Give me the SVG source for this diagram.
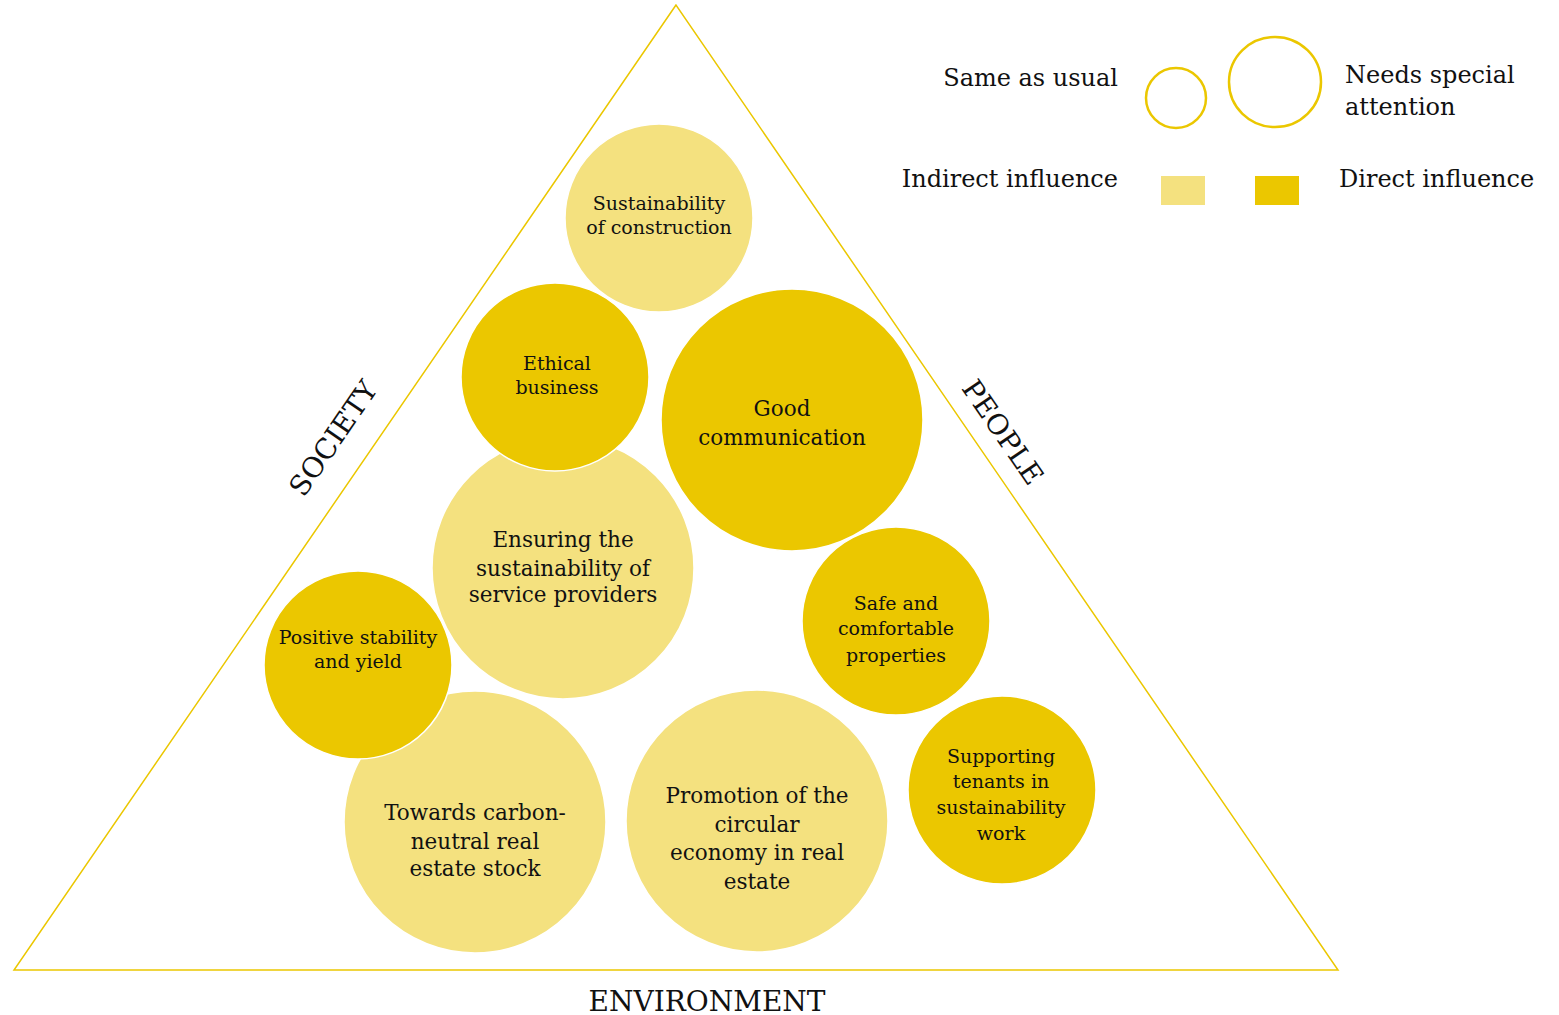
<svg xmlns="http://www.w3.org/2000/svg" width="1559" height="1015" viewBox="0 0 1559 1015">
  <style>
    text { font-family: "DejaVu Serif", "Liberation Serif", serif; fill: #111; }
    .c { text-anchor: middle; }
    .s { font-size: 19px; }
    .m { font-size: 21.5px; }
    .leg { font-size: 24px; }
    .side { font-size: 28px; text-anchor: middle; }
    .light { fill: #F4E17F; stroke: #ffffff; stroke-width: 1.5; }
    .dark { fill: #EBC700; stroke: #ffffff; stroke-width: 1.5; }
    .ring { fill: none; stroke: #EBC700; stroke-width: 2.5; }
  </style>

  <!-- frame triangle -->
  <g id="frame">
    <polygon points="676,5 14,970 1338,970" fill="none" stroke="#EBC700" stroke-width="1.5"/>
  </g>

  <g id="connectors"></g>

  <!-- side labels -->
  <g id="labels">
    <text class="side" transform="translate(333,438) rotate(-55.5)" dy="10">SOCIETY</text>
    <text class="side" transform="translate(1003,432) rotate(55.5)" dy="10">PEOPLE</text>
    <text class="side" x="707" y="1011">ENVIRONMENT</text>
  </g>

  <!-- topic bubbles -->
  <g id="n-construction">
    <circle class="light" cx="659" cy="218" r="94"/>
    <text class="c s" x="659" y="210">Sustainability</text>
    <text class="c s" x="659" y="234">of construction</text>
  </g>
  <g id="n-service">
    <circle class="light" cx="563" cy="568" r="131"/>
    <text class="c m" x="563" y="547">Ensuring the</text>
    <text class="c m" x="563" y="576">sustainability of</text>
    <text class="c m" x="563" y="602">service providers</text>
  </g>
  <g id="n-ethical">
    <circle class="dark" cx="555" cy="377" r="94"/>
    <text class="c s" x="557" y="370">Ethical</text>
    <text class="c s" x="557" y="394">business</text>
  </g>
  <g id="n-communication">
    <circle class="dark" cx="792" cy="420" r="131"/>
    <text class="c m" x="782" y="416">Good</text>
    <text class="c m" x="782" y="445">communication</text>
  </g>
  <g id="n-carbon">
    <circle class="light" cx="475" cy="822" r="131"/>
    <text class="c m" x="475" y="820">Towards carbon-</text>
    <text class="c m" x="475" y="849">neutral real</text>
    <text class="c m" x="475" y="876">estate stock</text>
  </g>
  <g id="n-stability">
    <circle class="dark" cx="358" cy="665" r="94"/>
    <text class="c s" x="358" y="644">Positive stability</text>
    <text class="c s" x="358" y="668">and yield</text>
  </g>
  <g id="n-circular">
    <circle class="light" cx="757" cy="821" r="131"/>
    <text class="c m" x="757" y="803">Promotion of the</text>
    <text class="c m" x="757" y="832">circular</text>
    <text class="c m" x="757" y="860">economy in real</text>
    <text class="c m" x="757" y="889">estate</text>
  </g>
  <g id="n-properties">
    <circle class="dark" cx="896" cy="621" r="94"/>
    <text class="c s" x="896" y="610">Safe and</text>
    <text class="c s" x="896" y="635">comfortable</text>
    <text class="c s" x="896" y="662">properties</text>
  </g>
  <g id="n-tenants">
    <circle class="dark" cx="1002" cy="790" r="94"/>
    <text class="c s" x="1001" y="763">Supporting</text>
    <text class="c s" x="1001" y="788">tenants in</text>
    <text class="c s" x="1001" y="814">sustainability</text>
    <text class="c s" x="1001" y="840">work</text>
  </g>

  <!-- legend -->
  <g id="legend">
    <text class="leg" x="1118" y="86" text-anchor="end">Same as usual</text>
    <circle class="ring" cx="1176" cy="98" r="30"/>
    <ellipse class="ring" cx="1275" cy="82" rx="46" ry="45"/>
    <text class="leg" x="1345" y="83">Needs special</text>
    <text class="leg" x="1345" y="115">attention</text>
    <text class="leg" x="1118" y="187" text-anchor="end">Indirect influence</text>
    <rect x="1161" y="176" width="44" height="29" fill="#F4E17F"/>
    <rect x="1255" y="176" width="44" height="29" fill="#EBC700"/>
    <text class="leg" x="1339" y="187">Direct influence</text>
  </g>
</svg>
